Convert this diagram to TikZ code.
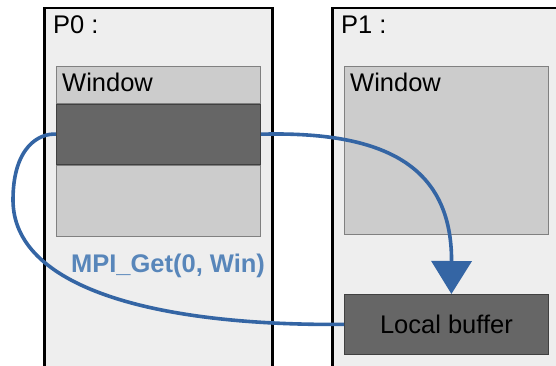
\documentclass[tikz,border=0pt]{standalone}
\usepackage{fontspec}
\setmainfont{Liberation Sans}
\usepackage{xcolor}
\usetikzlibrary{arrows.meta, positioning}
\definecolor{procfill}{RGB}{238,238,238}
\definecolor{winfill}{RGB}{204,204,204}
\definecolor{bufffill}{RGB}{102,102,102}
\definecolor{flow}{RGB}{52,101,164}
\definecolor{calltext}{RGB}{88,134,186}

\begin{document}
\begin{tikzpicture}[
    x=1pt, y=1pt,
    font=\fontsize{25.5}{30}\selectfont,
    process/.style={rectangle, draw=black, line width=2.5pt, fill=procfill, anchor=north west, minimum width=228pt, minimum height=380pt, inner sep=0pt},
    window/.style={rectangle, draw=gray, line width=0.8pt, fill=winfill, anchor=north west, minimum width=204pt, inner sep=0pt},
    buffer/.style={rectangle, draw=black!75, line width=0.8pt, fill=bufffill, minimum width=204pt, minimum height=60pt, inner sep=0pt},
    title/.style={anchor=base west, inner sep=0pt},
    flowline/.style={draw=flow, line width=3.6pt}
]
\useasboundingbox (0,0) rectangle (556,366);
\clip (0,0) rectangle (556,366);

% processes
\node[process] (p0) at (43,359) {};
\node[process, minimum width=260pt] (p1) at (331,359) {};
\node[title] (p0label) at (53,332) {P0 :};
\node[title] (p1label) at (341,332) {P1 :};

% window of P0
\node[window, minimum height=37pt] (wtop0) at (56,300) {};
\node[buffer, anchor=north, below=0pt of wtop0] (dark0) {};
\node[window, minimum height=71pt, below=0pt of dark0] (wlow0) {};
\node[title] (wlabel0) at (62,274) {Window};

% window and buffer of P1
\node[window, minimum height=168pt] (win1) at (344,300) {};
\node[title] (wlabel1) at (350,274) {Window};
\node[buffer, anchor=north west] (buf1) at (344,72) {Local buffer};

\node[text=calltext, font=\fontsize{25.5}{30}\selectfont\bfseries] (call) at (168,100) {MPI\_Get(0, Win)};

% transfer
\draw[flowline, -{Triangle[width=40pt,length=33pt]}] (dark0.east) .. controls (385,235) and (452,200) .. ([xshift=5pt]buf1.north);
\draw[flowline] (buf1.west) .. controls (150,40) and (13,80) .. (13,166) .. controls (13,220) and (40,233) .. (dark0.west);

\end{tikzpicture}
\end{document}
